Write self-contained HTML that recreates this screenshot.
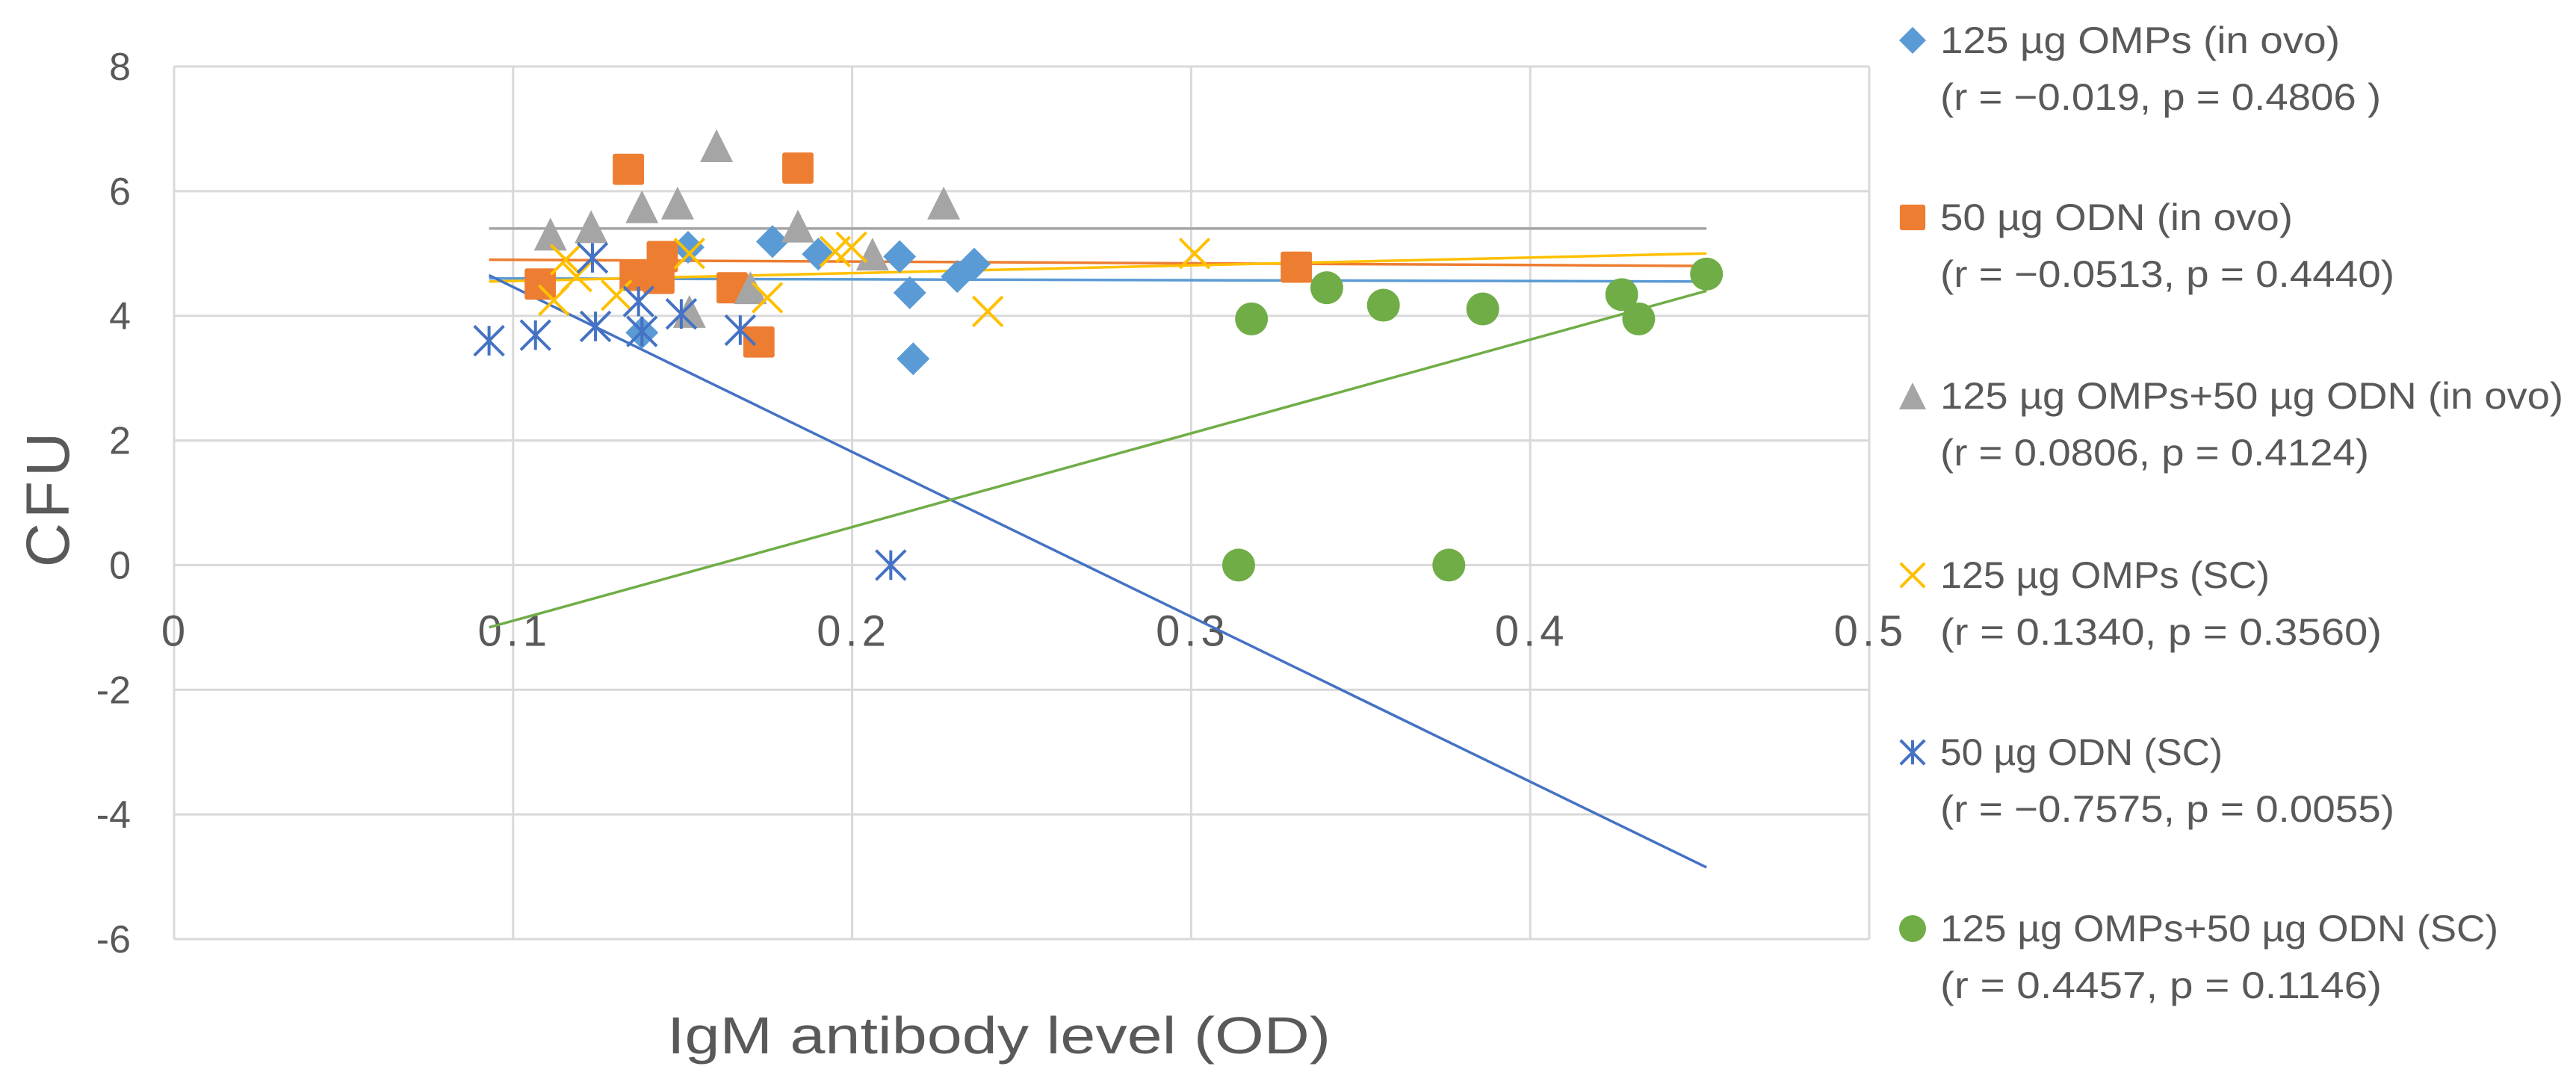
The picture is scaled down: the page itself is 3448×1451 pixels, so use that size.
<!DOCTYPE html>
<html><head><meta charset="utf-8"><style>
html,body{margin:0;padding:0;background:#fff;}
svg{display:block;}
text{font-family:"Liberation Sans",sans-serif;fill:#595959;}
</style></head><body>
<svg id="chart" width="3448" height="1451" viewBox="0 0 3448 1451" xmlns="http://www.w3.org/2000/svg">
<rect x="0" y="0" width="3448" height="1451" fill="#fff"/>
<g id="grid"></g>
<g id="ticks"></g>
<g id="trends"></g>
<g id="marks"></g>
<text transform="translate(92,666) rotate(-90)" text-anchor="middle" font-size="82" letter-spacing="6">CFU</text>
<text x="893" y="1410" font-size="70" textLength="888" lengthAdjust="spacingAndGlyphs">IgM  antibody level (OD)</text>
<g id="legend"></g>
</svg>
<script>
const NS="http://www.w3.org/2000/svg";
const xTicks=[0,0.1,0.2,0.3,0.4,0.5];
const xTickLabels=["0","0.1","0.2","0.3","0.4","0.5"];
const yTicks=[8,6,4,2,0,-2,-4,-6];
const yTickLabels=["8","6","4","2","0","-2","-4","-6"];
const seriesNames=["125 µg OMPs (in ovo)","50 µg ODN (in ovo)","125 µg OMPs+50 µg ODN (in ovo)","125 µg OMPs (SC)","50 µg ODN (SC)","125 µg OMPs+50 µg ODN (SC)"];
const seriesStats=["(r = −0.019, p = 0.4806 )","(r = −0.0513, p = 0.4440)","(r = 0.0806, p = 0.4124)","(r = 0.1340, p =  0.3560)","(r = −0.7575, p = 0.0055)","(r = 0.4457,  p = 0.1146)"];
const omvOvoX=[0.138,0.1516,0.1765,0.190,0.214,0.217,0.218,0.231,0.236];
const omvOvoY=[3.73,5.1,5.19,4.99,4.95,4.37,3.31,4.63,4.83];
const odnOvoX=[0.108,0.134,0.136,0.143,0.144,0.1646,0.1725,0.184,0.331];
const odnOvoY=[4.51,6.35,4.65,4.60,4.95,4.45,3.58,6.37,4.78];
const combOvoX=[0.111,0.123,0.138,0.1485,0.152,0.160,0.170,0.184,0.206,0.227];
const combOvoY=[5.31,5.43,5.75,5.81,4.07,6.73,4.45,5.44,4.99,5.81];
const omvScX=[0.112,0.1155,0.1187,0.1305,0.152,0.175,0.195,0.1998,0.240,0.301];
const omvScY=[4.25,4.9,4.63,4.33,5.0,4.29,5.03,5.1,4.07,5.0];
const odnScX=[0.0929,0.1066,0.1234,0.1243,0.137,0.138,0.1496,0.167,0.2114];
const odnScY=[3.6,3.69,4.93,3.83,4.23,3.75,4.03,3.77,0.0];
const combScX=[0.314,0.3178,0.340,0.3567,0.376,0.386,0.427,0.432,0.452];
const combScY=[0.0,3.95,4.45,4.17,0.0,4.11,4.34,3.95,4.67];
// trendline values (y at start and end of the shared x range)
const trendStartY=[4.6,4.9,5.4,4.55,4.65,-1.0];
const trendEndY=[4.55,4.8,5.4,5.0,-4.85,4.4];

const PL=233,PR=2502,PT=89,PB=1257,XMIN=0,XMAX=0.5,YMIN=-6,YMAX=8;
function sx(v){return PL+(v-XMIN)/(XMAX-XMIN)*(PR-PL);}
function sy(v){return PB-(v-YMIN)/(YMAX-YMIN)*(PB-PT);}
function mk(tag,attrs,parent){const e=document.createElementNS(NS,tag);for(const k in attrs)e.setAttribute(k,attrs[k]);parent.appendChild(e);return e;}

const series=[
 {x:omvOvoX,y:omvOvoY,c:"#5B9BD5",m:"diamond",key:"omps-in-ovo"},
 {x:odnOvoX,y:odnOvoY,c:"#ED7D31",m:"square",key:"odn-in-ovo"},
 {x:combOvoX,y:combOvoY,c:"#A5A5A5",m:"triangle",key:"combo-in-ovo"},
 {x:omvScX,y:omvScY,c:"#FFC000",m:"x",key:"omps-sc"},
 {x:odnScX,y:odnScY,c:"#4472C4",m:"star",key:"odn-sc"},
 {x:combScX,y:combScY,c:"#70AD47",m:"circle",key:"combo-sc"}
];

const grid=document.getElementById('grid');
yTicks.forEach(v=>{const l=mk('line',{x1:PL,x2:PR,y1:sy(v),y2:sy(v),stroke:'#D9D9D9','stroke-width':3},grid);

});
xTicks.forEach(v=>{const l=mk('line',{x1:sx(v),x2:sx(v),y1:PT,y2:PB,stroke:'#D9D9D9','stroke-width':3},grid);

});

const ticks=document.getElementById('ticks');
yTicks.forEach((v,i)=>{const t=mk('text',{x:175,y:sy(v)+18,'text-anchor':'end','font-size':52},ticks);t.textContent=yTickLabels[i];

});
xTicks.forEach((v,i)=>{const t=mk('text',{x:sx(v)+2,y:sy(0)+108,'text-anchor':'middle','font-size':58,'letter-spacing':6},ticks);t.textContent=xTickLabels[i];

});

function marker(m,cx,cy,c,parent,s){
 s=s||22;let e;
 if(m==='diamond')e=mk('polygon',{points:`${cx},${cy-s} ${cx+s},${cy} ${cx},${cy+s} ${cx-s},${cy}`,fill:c},parent);
 else if(m==='square')e=mk('rect',{x:cx-s*0.95,y:cy-s*0.95,width:s*1.9,height:s*1.9,rx:3,fill:c},parent);
 else if(m==='triangle')e=mk('polygon',{points:`${cx},${cy-s} ${cx+s},${cy+s} ${cx-s},${cy+s}`,fill:c},parent);
 else if(m==='circle')e=mk('circle',{cx:cx,cy:cy,r:s,fill:c},parent);
 else if(m==='x'){const d=s*0.9;e=mk('path',{d:`M${cx-d},${cy-d}L${cx+d},${cy+d}M${cx+d},${cy-d}L${cx-d},${cy+d}`,stroke:c,'stroke-width':4,fill:'none'},parent);}
 else {const d=s*0.9;e=mk('path',{d:`M${cx-d},${cy-d}L${cx+d},${cy+d}M${cx+d},${cy-d}L${cx-d},${cy+d}M${cx},${cy-d}L${cx},${cy+d}`,stroke:c,'stroke-width':4,fill:'none'},parent);}
 return e;
}

let allX=[];series.forEach(s=>allX=allX.concat(s.x));
const gxmin=Math.min(...allX),gxmax=Math.max(...allX);
const trends=document.getElementById('trends');
series.forEach((s,i)=>{
 const l=mk('line',{x1:sx(gxmin),y1:sy(trendStartY[i]),x2:sx(gxmax),y2:sy(trendEndY[i]),stroke:s.c,'stroke-width':3.5},trends);
 
 
});

const marks=document.getElementById('marks');
series.forEach(s=>{
 s.x.forEach((v,i)=>{const e=marker(s.m,sx(v),sy(s.y[i]),s.c,marks);
 
 });
});

const legend=document.getElementById('legend');
const base1=[71,308,547,787,1024,1260];
const w1=[535,472,834,441,378,747];
const w2=[590,608,574,591,608,591];
series.forEach((s,i)=>{
 const g=mk('g',{},legend);
 
 
 const m=marker(s.m,2560,base1[i]-17,s.c,g,18);
 
 
 const t1=mk('text',{x:2597,y:base1[i],'font-size':50,textLength:w1[i],lengthAdjust:'spacingAndGlyphs'},g);t1.textContent=seriesNames[i];
 
 
 const t2=mk('text',{x:2597,y:base1[i]+76,'font-size':50,textLength:w2[i],lengthAdjust:'spacingAndGlyphs'},g);t2.textContent=seriesStats[i];
 
 
});
</script>
</body></html>
